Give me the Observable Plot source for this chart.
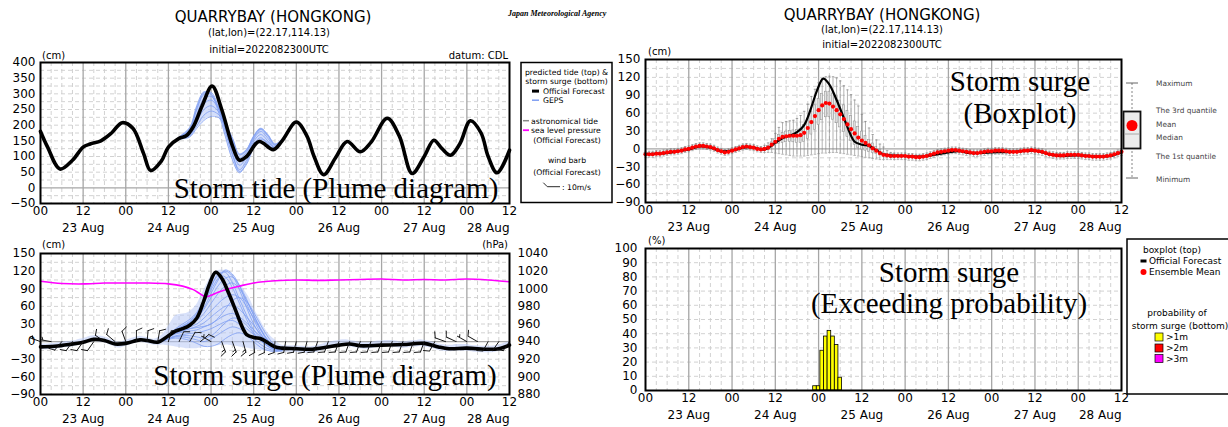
<!DOCTYPE html>
<html><head><meta charset="utf-8">
<script src="https://cdn.jsdelivr.net/npm/d3@7"></script>
<script src="https://cdn.jsdelivr.net/npm/@observablehq/plot@0.6"></script>
<style>
html,body{margin:0;padding:0;background:#fff;overflow:hidden;}
#page{position:relative;width:1228px;height:427px;overflow:hidden;background:#fff;}
.panel{position:absolute;}
</style></head><body><div id="page"></div>
<script>
// ================= DATA =================
const tickHours = [0,12,24,36,48,60,72,84,96,108,120,132];
const tickLabels = ["00","12","00","12","00","12","00","12","00","12","00","12"];
const dateHours = [12,36,60,84,108,132];
const dateLabels = ["23 Aug","24 Aug","25 Aug","26 Aug","27 Aug","28 Aug"];

const tideYTicks = [400,350,300,250,200,150,100,50,0,-50];
const surgeYTicks = [150,120,90,60,30,0,-30,-60,-90];
const pressTicks = [1040,1020,1000,980,960,940,920,900,880];
const probYTicks = [100,90,80,70,60,50,40,30,20,10,0];

// storm tide, official forecast (cm)
const tideHours = [0,2,5.5,9,12,14,17,20,23,26,29,31,34,36,39,41,43,45.5,48.3,51,54,56,58,61.5,65.5,68,72,75,77,79.7,83,86.3,90,93,97.6,101,104.6,108,110.7,113,115.4,118,121,124,126,128.5,132];
const tideValues = [180,130,60,88,130,140,150,175,208,190,110,55,85,130,158,166,195,262,325,250,135,88,100,148,122,150,210,165,100,42,95,148,115,145,222,165,46,100,152,125,104,140,214,175,100,48,120];

// storm tide, GEPS members (cm)
const tideMemberHours = [36,39,42,44,46,48,50,52,54,56,58,60,62,64,66,68,70];
const tideM1 = [130,162,192,262,306,298,245,165,90,48,80,135,150,135,123,150,182];
const tideM2 = [130,160,185,250,298,300,255,180,105,58,88,140,160,140,125,150,182];
const tideM3 = [130,158,178,235,285,292,258,192,125,72,98,148,170,150,128,150,182];
const tideM4 = [130,157,172,222,268,280,255,200,140,85,108,155,180,158,130,150,182];
const tideM5 = [130,156,168,210,250,262,245,205,150,95,115,160,186,165,135,152,182];
const tideM6 = [130,155,165,198,232,245,235,205,158,105,120,165,190,170,140,155,182];
const tideM7 = [130,154,162,190,215,228,225,200,160,108,122,165,188,168,138,153,182];
const tideM8 = [130,161,188,255,302,305,262,188,112,52,75,128,155,145,128,150,182];

// storm surge, official forecast (cm)
const surgeHours = [0,4,8,12,15,18,21,24,28,30,33,36,38,40,42,44,46,47.5,49.3,51,53,55,57,58,60,62,64,66,68,72,76,80,84,87,90,96,102,108,112,115,120,126,129,132];
const surgeValues = [-9,-8,-5,-1,4,2,-4,-3,3,2,-1,10,18,22,28,40,70,97,118,108,82,52,22,12,7,5,-2,-9,-11,-12,-13,-10,-6,-4,-7,-6,-5,-3,-9,-12,-11,-13,-12,-6];

// storm surge, GEPS members (cm)
const surgeMemberHours = [34,36,38,40,42,44,46,48,50,52,54,56,58,60,62,64,66,68];
const surgeS1 = [2,12,20,26,33,45,65,88,108,120,112,88,58,30,10,-5,-12,-13];
const surgeS2 = [2,11,19,25,32,42,58,82,105,122,115,95,65,38,14,-3,-12,-13];
const surgeS3 = [2,10,18,24,30,40,55,75,95,108,110,95,72,45,20,0,-10,-13];
const surgeS4 = [2,10,17,22,28,36,48,65,82,95,100,90,70,45,22,2,-9,-12];
const surgeS5 = [1,9,16,20,25,30,40,52,65,75,80,75,60,40,20,3,-8,-12];
const surgeS6 = [1,8,14,18,22,26,32,42,52,60,62,55,42,28,12,0,-9,-12];
const surgeS7 = [1,8,13,16,18,20,25,30,38,45,48,42,32,20,8,-3,-10,-13];
const surgeS8 = [0,6,10,12,14,15,18,22,28,34,36,30,22,12,2,-6,-12,-14];
const surgeS9 = [0,5,8,8,6,3,0,5,12,20,25,22,15,5,-5,-12,-15,-15];
const surgeS10 = [0,4,6,5,2,-3,-8,-8,-4,5,12,15,10,0,-10,-15,-17,-16];
const surgeS11 = [2,12,22,30,38,50,72,95,112,110,92,65,38,15,2,-8,-13,-13];
const surgeS12 = [1,9,15,19,22,24,26,30,40,55,70,75,68,50,28,8,-6,-12];
const surgeS13 = [0,5,9,10,10,8,6,10,20,32,40,38,28,14,2,-8,-14,-15];
const surgeS14 = [2,11,20,27,35,48,68,92,115,118,100,72,45,20,5,-5,-12,-13];

// sea level pressure (hPa)
const pressHours = [0,6,12,18,24,30,36,40,43,45,46.5,48,50,53,56,60,66,72,78,84,90,96,102,108,114,120,126,132];
const pressValues = [1008.5,1006,1005.5,1006.5,1006.5,1006.5,1005.5,1003,999,994,991,992.5,996,1000,1003,1006.5,1009,1010,1009.5,1010,1010.5,1011,1010,1010.5,1010,1011,1010,1008];

// wind barbs every 3 h: direction (deg, from) and speed (m/s)
const windDir = [290,280,220,215,215,215,305,310,340,0,5,10,15,25,30,50,300,160,160,165,175,180,185,190,195,195,200,200,200,200,200,200,200,200,200,200,200,210,290,295,300,300,210,215,215];
const windSpd = [5,5,10,10,10,10,10,10,10,10,10,10,10,10,10,10,5,15,15,15,10,10,10,10,10,10,10,10,10,10,10,10,10,10,10,10,10,10,10,10,5,10,10,10,10];

// hourly ensemble statistics of storm surge (cm), hours 0..132
const surgeMean = [-9,-9,-9,-8,-8,-7,-6,-5,-5,-4,-3,-1,0,2,4,5,5,4,3,1,-2,-4,-6,-5,-3,-1,1,3,4,3,2,0,-1,0,2,7,12,17,20,21,22,22,22,23,27,35,45,55,65,73,77,76,71,65,58,50,41,33,26,19,14,10,6,1,-3,-7,-10,-11,-12,-12,-12,-12,-12,-13,-13,-14,-14,-13,-12,-10,-8,-6,-5,-4,-3,-2,-2,-3,-4,-5,-6,-7,-7,-6,-5,-4,-4,-3,-3,-3,-4,-5,-5,-5,-4,-3,-3,-2,-3,-4,-5,-7,-9,-10,-11,-11,-11,-10,-10,-10,-10,-11,-12,-12,-13,-13,-13,-13,-12,-11,-9,-7,-5];
const surgeMax = [-4,-4,-4,-3,-3,-2,-1,0,0,1,2,4,5,7,9,10,10,9,8,6,3,1,-1,0,2,4,6,8,9,8,7,5,4,6,10,17,26,36,44,46,47,48,51,56,63,75,88,100,111,118,121,122,121,119,114,106,99,91,82,72,58,46,35,24,15,8,3,-3,-6,-7,-7,-7,-7,-8,-8,-9,-9,-8,-7,-5,-3,-1,0,1,2,3,3,2,1,0,-1,-2,-2,-1,0,1,1,2,2,2,1,0,0,0,1,2,2,3,2,1,0,-2,-4,-5,-6,-6,-6,-5,-5,-5,-5,-6,-7,-7,-8,-8,-8,-8,-7,-6,-4,-2,0];
const surgeQ3 = [-7,-7,-7,-6,-6,-5,-4,-3,-3,-2,-1,1,2,4,6,7,7,6,5,3,0,-2,-4,-3,-1,1,3,5,6,5,4,2,1,2,5,11,17,23,27,29,30,31,32,34,40,50,62,73,84,92,96,96,93,88,81,73,64,55,46,37,29,22,15,9,3,-2,-6,-8,-9,-9,-10,-10,-10,-11,-11,-12,-12,-11,-10,-8,-6,-4,-3,-2,-1,0,0,-1,-2,-3,-4,-5,-5,-4,-3,-2,-2,-1,-1,-1,-2,-3,-3,-3,-2,-1,-1,0,-1,-2,-3,-5,-7,-8,-9,-9,-9,-8,-8,-8,-8,-9,-10,-10,-11,-11,-11,-11,-10,-9,-7,-5,-3];
const surgeQ1 = [-11,-11,-11,-10,-10,-9,-8,-7,-7,-6,-5,-3,-2,0,2,3,3,2,1,-1,-4,-6,-8,-7,-5,-3,-1,1,2,1,0,-2,-3,-2,-1,2,5,8,10,11,12,11,10,10,12,17,24,32,40,48,53,53,49,43,36,28,20,13,7,2,-1,-3,-5,-7,-9,-11,-13,-14,-15,-15,-14,-14,-14,-15,-15,-16,-16,-15,-14,-12,-10,-8,-7,-6,-5,-4,-4,-5,-6,-7,-8,-9,-9,-8,-7,-6,-6,-5,-5,-5,-6,-7,-7,-7,-6,-5,-5,-4,-5,-6,-7,-9,-11,-12,-13,-13,-13,-12,-12,-12,-12,-13,-14,-14,-15,-15,-15,-15,-14,-13,-11,-9,-7];
const surgeMin = [-14,-14,-14,-13,-13,-12,-11,-10,-10,-9,-8,-6,-5,-3,-1,0,0,-1,-2,-4,-7,-9,-11,-10,-8,-6,-4,-2,-1,-2,-3,-5,-6,-6,-6,-6,-7,-8,-9,-10,-11,-12,-12,-12,-12,-11,-10,-9,-8,-7,-7,-6,-6,-6,-7,-8,-9,-10,-11,-12,-13,-14,-15,-16,-17,-18,-18,-18,-18,-18,-18,-18,-18,-19,-19,-20,-20,-19,-18,-16,-14,-12,-11,-10,-9,-8,-8,-9,-10,-11,-12,-13,-13,-12,-11,-10,-10,-9,-9,-9,-10,-11,-11,-11,-10,-9,-9,-8,-9,-10,-11,-13,-15,-16,-17,-17,-17,-16,-16,-16,-16,-17,-18,-18,-19,-19,-19,-19,-18,-17,-15,-13,-11];

// exceeding probability of storm surge > 1 m (%)
const probHours = [47,48,49,50,51,52,53,54];
const prob1m = [3,3,28,38,42,38,32,9];

// ================= BUILD =================
const page = document.getElementById("page");
function mount(el, left, top) {
  const d = document.createElement("div");
  d.className = "panel"; d.style.left = left + "px"; d.style.top = top + "px";
  d.appendChild(el); page.appendChild(d);
}
const FONT = "DejaVu Sans";
const FS = 12;
const baseStyle = {background: "none", overflow: "visible", fontFamily: FONT, fontSize: FS + "px", color: "#000"};

function gridMarks(yMinor) {
  return [
    Plot.ruleX(d3.range(3, 132, 3).filter(h => h % 12 !== 0), {stroke: "#cdcdcd", strokeWidth: 0.9, strokeDasharray: "4,3"}),
    Plot.ruleY(yMinor, {stroke: "#cdcdcd", strokeWidth: 0.9, strokeDasharray: "4,3"}),
    Plot.ruleX(d3.range(12, 132, 12), {stroke: "#a6a6a6", strokeWidth: 1.3})
  ];
}
function xLabelMarks() {
  return [
    Plot.text(tickHours, {x: d => d, text: (d, i) => tickLabels[i], frameAnchor: "bottom", dy: 11, fontSize: FS}),
    Plot.text(dateHours.slice(0, 5), {x: d => d, text: (d, i) => dateLabels[i], frameAnchor: "bottom", dy: 28, fontSize: FS}),
    Plot.text(dateHours.slice(5), {x: d => d, text: (d, i) => dateLabels[5 + i], frameAnchor: "bottom", dy: 28, textAnchor: "end", fontSize: FS})
  ];
}
function yLabelMarks(ticks, dx = -5) {
  return Plot.text(ticks, {y: d => d, text: d => String(d).replace("-", "\u2212"), frameAnchor: "left", textAnchor: "end", dx, fontSize: FS});
}
const frameMark = () => Plot.frame({stroke: "#000", strokeWidth: 2});

const BLUE_FILL = "#b8c8f6";
const BLUE_LINE = "#7f9ef2";

// ---- Panel A: storm tide plume ----
const tideMembers = [tideM1, tideM2, tideM3, tideM4, tideM5, tideM6, tideM7, tideM8];
const tideOff = tideHours.map((h, i) => ({h, v: tideValues[i]}));
const tideMemRows = tideMembers.flatMap((m, k) => tideMemberHours.map((h, i) => ({h, v: m[i], k})));
const tideEnv = tideMemberHours.map((h, i) => ({h, lo: d3.min(tideMembers, m => m[i]), hi: d3.max(tideMembers, m => m[i])}));

mount(Plot.plot({
  width: 520, height: 245, marginLeft: 40, marginRight: 11, marginTop: 62, marginBottom: 42,
  x: {domain: [0, 132], axis: null}, y: {domain: [-50, 400], axis: null},
  style: baseStyle,
  marks: [
    ...gridMarks(d3.range(-25, 400, 25).filter(v => v !== 0)),
    Plot.ruleY([0], {stroke: "#a6a6a6", strokeWidth: 1.3}),
    Plot.areaY(tideEnv, {x: "h", y1: "lo", y2: "hi", fill: BLUE_FILL, fillOpacity: 0.6, curve: "catmull-rom"}),
    Plot.line(tideMemRows, {x: "h", y: "v", z: "k", stroke: BLUE_LINE, strokeWidth: 0.8, curve: "catmull-rom"}),
    Plot.line(tideOff, {x: "h", y: "v", stroke: "#000", strokeWidth: 3.6, curve: "catmull-rom"}),
    frameMark(),
    yLabelMarks(tideYTicks),
    ...xLabelMarks()
  ]
}), 0, 0);

// ---- Panel B: storm surge plume + pressure + wind ----
const hoursAll = d3.range(0, 133);
const boxRows = hoursAll.map(h => ({h, mean: surgeMean[h], min: surgeMin[h], q1: surgeQ1[h], q3: surgeQ3[h], max: surgeMax[h]}));
const surgeMembers = [surgeS1, surgeS2, surgeS3, surgeS4, surgeS5, surgeS6, surgeS7, surgeS8, surgeS9, surgeS10, surgeS11, surgeS12, surgeS13, surgeS14];
const surgeMemRows = surgeMembers.flatMap((m, k) => surgeMemberHours.map((h, i) => ({h, v: m[i], k})));
const surgeOff = surgeHours.map((h, i) => ({h, v: surgeValues[i]}));
const pressToCm = d3.scaleLinear([d3.min(pressTicks), d3.max(pressTicks)], [d3.min(surgeYTicks), d3.max(surgeYTicks)]);
const pressRows = pressHours.map((h, i) => ({h, p: pressValues[i]}));
const windRows = d3.range(0, 133, 3).map((h, i) => ({h, dir: windDir[i], spd: windSpd[i]}));

function barbShape(nLong, nShort) {
  return {
    draw(ctx, l) {
      ctx.moveTo(0, 0); ctx.lineTo(0, -l);
      let p = -l;
      for (let i = 0; i < nLong; i++) { ctx.moveTo(0, p); ctx.lineTo(5.5, p - 2.5); p += 2.6; }
      if (nLong === 0) p += 2.6;
      for (let i = 0; i < nShort; i++) { ctx.moveTo(0, p); ctx.lineTo(2.8, p - 1.3); p += 2.6; }
    }
  };
}
function barbMarks() {
  const classes = [[5, 0, 1], [10, 1, 0], [15, 1, 1], [20, 2, 0]];
  return classes.map(([s, nl, ns]) => {
    const rows = windRows.filter(d => d.spd === s);
    const opts = {x: "h", y: () => 0, rotate: "dir", length: 11, anchor: "start", stroke: "#111", strokeWidth: 0.9};
    try { return Plot.vector(rows, {...opts, shape: barbShape(nl, ns)}); }
    catch (e) { return Plot.vector(rows, opts); }
  });
}

mount(Plot.plot({
  width: 560, height: 187, marginLeft: 40, marginRight: 51, marginTop: 13, marginBottom: 33,
  x: {domain: [0, 132], axis: null}, y: {domain: [-90, 150], axis: null},
  style: baseStyle,
  marks: [
    ...gridMarks(d3.range(-75, 150, 15).filter(v => v !== 0)),
    Plot.ruleY([0], {stroke: "#a6a6a6", strokeWidth: 1.3}),
    Plot.areaY(boxRows, {x: "h", y1: "min", y2: "max", fill: BLUE_FILL, fillOpacity: 0.55, curve: "catmull-rom"}),
    Plot.line(surgeMemRows, {x: "h", y: "v", z: "k", stroke: BLUE_LINE, strokeWidth: 0.8, curve: "catmull-rom"}),
    Plot.line(pressRows, {x: "h", y: d => pressToCm(d.p), stroke: "#ff00ff", strokeWidth: 1.6, curve: "catmull-rom"}),
    Plot.line(surgeOff, {x: "h", y: "v", stroke: "#000", strokeWidth: 3.6, curve: "catmull-rom"}),
    ...barbMarks(),
    frameMark(),
    yLabelMarks(surgeYTicks),
    Plot.text(pressTicks, {y: d => pressToCm(d), text: d => String(d), frameAnchor: "right", textAnchor: "start", dx: 8, fontSize: FS}),
    ...xLabelMarks()
  ]
}), 0, 240);

// ---- Panel C: storm surge boxplot ----
mount(Plot.plot({
  width: 528, height: 240, marginLeft: 45, marginRight: 7, marginTop: 59, marginBottom: 38,
  x: {domain: [0, 132], axis: null}, y: {domain: [-90, 150], axis: null},
  style: baseStyle,
  marks: [
    ...gridMarks(d3.range(-75, 150, 15).filter(v => v !== 0)),
    Plot.ruleY([0], {stroke: "#a6a6a6", strokeWidth: 1.3}),
    Plot.ruleX(boxRows, {x: "h", y1: "min", y2: "max", stroke: "#808080", strokeWidth: 0.6}),
    Plot.link(boxRows, {x1: d => d.h - 0.35, x2: d => d.h + 0.35, y1: "max", y2: "max", stroke: "#808080", strokeWidth: 0.6}),
    Plot.link(boxRows, {x1: d => d.h - 0.35, x2: d => d.h + 0.35, y1: "min", y2: "min", stroke: "#808080", strokeWidth: 0.6}),
    Plot.rect(boxRows, {x1: d => d.h - 0.28, x2: d => d.h + 0.28, y1: "q1", y2: "q3", fill: "#e4e4e4", stroke: "#8a8a8a", strokeWidth: 0.5}),
    Plot.line(surgeOff, {x: "h", y: "v", stroke: "#000", strokeWidth: 2.2, curve: "catmull-rom"}),
    Plot.dot(boxRows, {x: "h", y: "mean", r: 2.1, fill: "#ff0000"}),
    frameMark(),
    yLabelMarks(surgeYTicks),
    ...xLabelMarks()
  ]
}), 600, 0);

// ---- Panel D: exceeding probability ----
const probRows = probHours.map((h, i) => ({h, p: prob1m[i]}));
mount(Plot.plot({
  width: 528, height: 191, marginLeft: 45, marginRight: 7, marginTop: 12, marginBottom: 37,
  x: {domain: [0, 132], axis: null}, y: {domain: [0, 100], axis: null},
  style: baseStyle,
  marks: [
    ...gridMarks(d3.range(10, 100, 10)),
    Plot.rect(probRows, {x1: d => d.h - 0.5, x2: d => d.h + 0.5, y1: () => 0, y2: "p", fill: "#ffff00", stroke: "#000", strokeWidth: 0.8}),
    frameMark(),
    yLabelMarks(probYTicks, -8),
    ...xLabelMarks()
  ]
}), 600, 236);

// ================= OVERLAY TEXT & LEGENDS =================
const ov = d3.select("#page").append("svg")
  .attr("width", 1228).attr("height", 427)
  .style("position", "absolute").style("left", "0px").style("top", "0px").style("overflow", "hidden");

function txt(x, y, s, o = {}) {
  return ov.append("text").attr("x", x).attr("y", y)
    .attr("text-anchor", o.anchor || "start")
    .style("font-family", o.font || FONT)
    .style("font-size", (o.size || 10) + "px")
    .style("font-weight", o.weight || "normal")
    .style("font-style", o.style || "normal")
    .attr("fill", o.fill || "#000")
    .text(s);
}

// titles
txt(273, 22, "QUARRYBAY (HONGKONG)", {anchor: "middle", size: 15});
txt(269, 36, "(lat,lon)=(22.17,114.13)", {anchor: "middle", size: 10});
txt(269, 52.5, "initial=2022082300UTC", {anchor: "middle", size: 10});
txt(882, 19.5, "QUARRYBAY (HONGKONG)", {anchor: "middle", size: 15});
txt(882, 33.3, "(lat,lon)=(22.17,114.13)", {anchor: "middle", size: 10});
txt(882, 47.6, "initial=2022082300UTC", {anchor: "middle", size: 10});
txt(508, 16, "Japan Meteorological Agency", {font: "Liberation Serif", size: 8, weight: "bold", style: "italic"});

// units
txt(42, 58.5, "(cm)", {size: 10});
txt(508, 58.5, "datum: CDL", {anchor: "end", size: 10});
txt(42, 247.5, "(cm)", {size: 10});
txt(508, 247.5, "(hPa)", {anchor: "end", size: 10});
txt(648, 54.5, "(cm)", {size: 10});
txt(648, 243.5, "(%)", {size: 10});

// big annotations
const SER = {font: "Liberation Serif", size: 29, anchor: "middle"};
txt(336, 198, "Storm tide (Plume diagram)", SER);
txt(325, 385, "Storm surge (Plume diagram)", SER);
txt(1020, 91, "Storm surge", SER);
txt(1020, 123, "(Boxplot)", SER);
txt(949, 282, "Storm surge", SER);
txt(949, 313, "(Exceeding probability)", SER);

// legend A (left)
ov.append("rect").attr("x", 521).attr("y", 62.5).attr("width", 91).attr("height", 140)
  .attr("fill", "#fff").attr("stroke", "#000").attr("stroke-width", 1.5);
const LA = {size: 7.7};
txt(566.5, 75, "predicted tide (top) &", {...LA, anchor: "middle"});
txt(566.5, 84.2, "storm surge (bottom)", {...LA, anchor: "middle"});
ov.append("rect").attr("x", 532).attr("y", 89.6).attr("width", 7).attr("height", 3).attr("fill", "#000");
txt(543, 93.8, "Official Forecast", LA);
ov.append("line").attr("x1", 532).attr("x2", 539).attr("y1", 100.2).attr("y2", 100.2).attr("stroke", BLUE_LINE).attr("stroke-width", 1.5);
txt(543, 103.2, "GEPS", LA);
ov.append("line").attr("x1", 523).attr("x2", 529).attr("y1", 120.7).attr("y2", 120.7).attr("stroke", "#888").attr("stroke-width", 1.5);
txt(531, 123.5, "astronomical tide", LA);
ov.append("line").attr("x1", 523).attr("x2", 529).attr("y1", 130.2).attr("y2", 130.2).attr("stroke", "#ff00ff").attr("stroke-width", 1.8);
txt(531, 133, "sea level pressure", LA);
txt(567, 142.5, "(Official Forecast)", {...LA, anchor: "middle"});
txt(567, 162.8, "wind barb", {...LA, anchor: "middle"});
txt(567, 175, "(Official Forecast)", {...LA, anchor: "middle"});
ov.append("path").attr("d", "M543.3,182.7L547.3,186.7L560,186.7").attr("fill", "none").attr("stroke", "#111").attr("stroke-width", 0.9);
txt(562, 189.5, ": 10m/s", LA);

// legend C (boxplot explanation)
ov.append("line").attr("x1", 1132).attr("x2", 1132).attr("y1", 83).attr("y2", 178).attr("stroke", "#666").attr("stroke-width", 0.8).attr("stroke-dasharray", "2,2");
ov.append("line").attr("x1", 1126).attr("x2", 1138).attr("y1", 83).attr("y2", 83).attr("stroke", "#555").attr("stroke-width", 0.9);
ov.append("line").attr("x1", 1126).attr("x2", 1138).attr("y1", 178).attr("y2", 178).attr("stroke", "#555").attr("stroke-width", 0.9);
ov.append("rect").attr("x", 1123.5).attr("y", 111.5).attr("width", 17).attr("height", 37).attr("fill", "#ececec").attr("stroke", "#111").attr("stroke-width", 1.8);
ov.append("line").attr("x1", 1124).attr("x2", 1140).attr("y1", 134).attr("y2", 134).attr("stroke", "#999").attr("stroke-width", 0.8);
ov.append("circle").attr("cx", 1132).attr("cy", 125.5).attr("r", 5.5).attr("fill", "#ff0000");
const LC = {size: 7.4, fill: "#444"};
txt(1156, 85.7, "Maximum", LC);
txt(1156, 112.7, "The 3rd quantile", LC);
txt(1156, 126.7, "Mean", LC);
txt(1156, 139.7, "Median", LC);
txt(1156, 158.7, "The 1st quantile", LC);
txt(1156, 181.7, "Minimum", LC);

// legend D (right bottom)
ov.append("rect").attr("x", 1127).attr("y", 239).attr("width", 110).attr("height", 155)
  .attr("fill", "#fff").attr("stroke", "#000").attr("stroke-width", 1.5);
const LD = {size: 9};
txt(1172, 253, "boxplot (top)", {...LD, anchor: "middle"});
ov.append("rect").attr("x", 1140.5).attr("y", 259.5).attr("width", 6).attr("height", 3).attr("fill", "#000");
txt(1149, 264.3, "Official Forecast", LD);
ov.append("circle").attr("cx", 1143.5).attr("cy", 272).attr("r", 3).attr("fill", "#ff0000");
txt(1149, 275.3, "Ensemble Mean", LD);
txt(1177, 316, "probability of", {...LD, anchor: "middle"});
txt(1180, 328.5, "storm surge (bottom)", {...LD, anchor: "middle"});
[["#ffff00", 337, ">1m"], ["#ff0000", 348, ">2m"], ["#ff00ff", 358.5, ">3m"]].forEach(([c, y, s]) => {
  ov.append("rect").attr("x", 1155).attr("y", y - 4).attr("width", 8).attr("height", 8).attr("fill", c).attr("stroke", "#000").attr("stroke-width", 0.7);
  txt(1166, y + 3, s, LD);
});
</script></body></html>
